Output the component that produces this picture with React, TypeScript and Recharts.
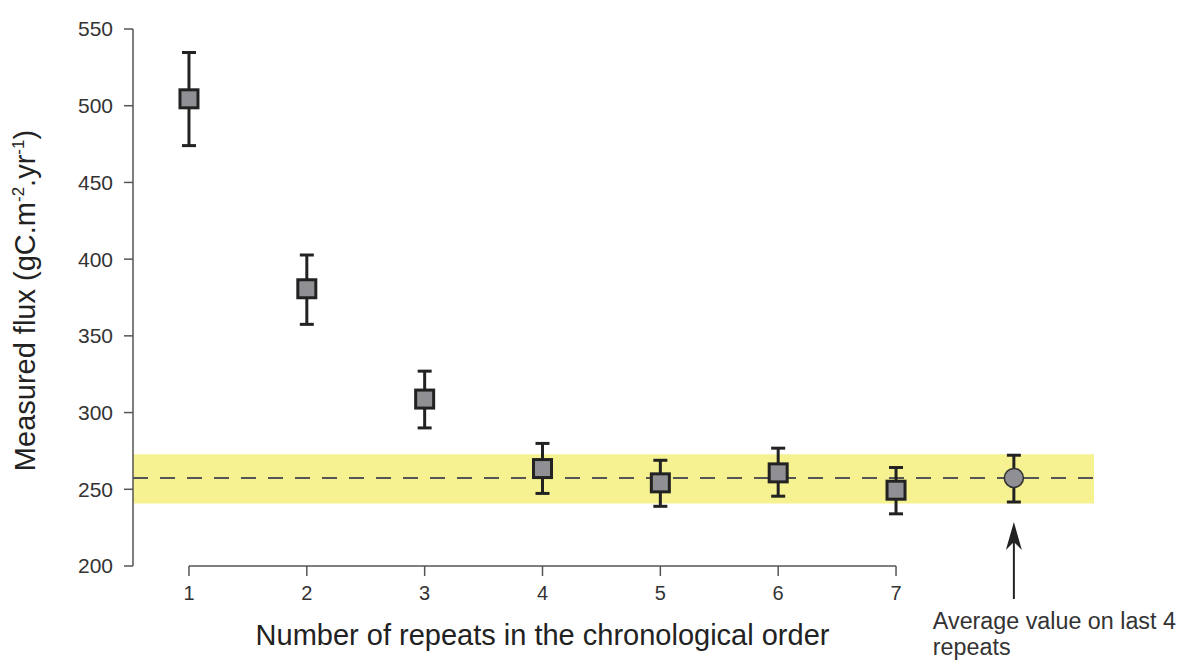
import { ScatterChart, Scatter, XAxis, YAxis, ErrorBar, ReferenceArea, ReferenceLine } from 'recharts';

// repeats in chronological order
const repeats = [1, 2, 3, 4, 5, 6, 7];
const flux = [504.5, 380.7, 308.8, 263.5, 254.2, 260.7, 249.4];
const fluxHigh = [534.7, 402.7, 327.0, 279.9, 268.9, 276.8, 264.2];
const fluxLow = [474.0, 357.5, 290.0, 247.3, 238.9, 245.5, 234.0];

// average of the last 4 repeats, drawn at position 8
const avgPos = 8;
const avgValue = 257.4;
const avgHigh = 272.2;
const avgLow = 241.7;
const band = [240.7, 272.9];

const yTicks = [200, 250, 300, 350, 400, 450, 500, 550];
const xTicks = [1, 2, 3, 4, 5, 6, 7];
const xDomain = [0.525, 8.68];

const repeatData = repeats.map((r, i) => ({
  x: r,
  y: flux[i],
  err: [flux[i] - fluxLow[i], fluxHigh[i] - flux[i]],
}));
const avgData = [{ x: avgPos, y: avgValue, err: [avgValue - avgLow, avgHigh - avgValue] }];

const font = "'Liberation Sans', Arial, sans-serif";

const Square = (props: any) => {
  const { cx, cy } = props;
  return <rect x={cx - 9} y={cy - 9} width={18} height={18} fill="#909094" stroke="#222" strokeWidth={3} />;
};

const Dot = (props: any) => {
  const { cx, cy } = props;
  return <circle cx={cx} cy={cy} r={9.5} fill="#909094" stroke="#333" strokeWidth={1.6} />;
};

const Arrow = (props: any) => {
  const { x1, y1, x2, y2 } = props;
  const top = Math.min(y1, y2);
  const bottom = Math.max(y1, y2);
  const x = x1;
  return (
    <g>
      <line x1={x} y1={top + 14} x2={x2} y2={bottom} stroke="#222" strokeWidth={2} />
      <polygon points={`${x},${top} ${x - 8},${top + 28} ${x},${top + 20} ${x + 8},${top + 28}`} fill="#222" />
      <text x={x - 81} y={bottom + 30} fontSize={23.3} fill="#333" fontFamily={font}>
        Average value on last 4
      </text>
      <text x={x - 81} y={bottom + 56} fontSize={23.3} fill="#333" fontFamily={font}>
        repeats
      </text>
    </g>
  );
};

const XTitle = (props: any) => {
  const { viewBox } = props;
  return (
    <text x={viewBox.x + viewBox.width / 2} y={viewBox.y + 79} textAnchor="middle" fontSize={29} fill="#222" fontFamily={font}>
      Number of repeats in the chronological order
    </text>
  );
};

const YTitle = (props: any) => {
  const { viewBox } = props;
  const cx = 27;
  const cy = viewBox.y + viewBox.height / 2 + 3;
  return (
    <text x={cx} y={cy} transform={`rotate(-90 ${cx} ${cy})`} textAnchor="middle" fontSize={29} fill="#222" fontFamily={font}>
      Measured flux (gC.m
      <tspan dy={-11} fontSize={17}>-2</tspan>
      <tspan dy={11}>.yr</tspan>
      <tspan dy={-11} fontSize={17}>-1</tspan>
      <tspan dy={11}>)</tspan>
    </text>
  );
};

export default function App() {
  return (
    <div style={{ width: 1178, height: 654 }}>
      <ScatterChart width={1178} height={654} margin={{ top: 21, right: 92, bottom: 56, left: 55 }}>
        <XAxis
          type="number"
          dataKey="x"
          domain={xDomain}
          ticks={xTicks}
          allowDataOverflow
          axisLine={false}
          tickLine={{ stroke: '#555', strokeWidth: 1.5 }}
          tickSize={10}
          tickMargin={10}
          height={40}
          tick={{ fill: '#333', fontSize: 20, fontFamily: font }}
        />
        <YAxis
          type="number"
          dataKey="y"
          domain={[200, 550]}
          ticks={yTicks}
          allowDataOverflow
          width={70}
          axisLine={{ stroke: '#555', strokeWidth: 1.5 }}
          tickLine={{ stroke: '#555', strokeWidth: 1.5 }}
          tickSize={9}
          tickMargin={11}
          tick={{ fill: '#333', fontSize: 21, fontFamily: font }}
          label={<YTitle />}
        />
        <ReferenceArea x1={xDomain[0]} x2={xDomain[1]} y1={band[0]} y2={band[1]} fill="#f6f291" fillOpacity={1} stroke="none" />
        <ReferenceLine y={avgValue} stroke="#555" strokeWidth={2} strokeDasharray="15 12" />
        <ReferenceLine
          segment={[{ x: xTicks[0], y: 200 }, { x: xTicks[xTicks.length - 1], y: 200 }]}
          stroke="#555"
          strokeWidth={1.5}
          ifOverflow="visible"
          label={<XTitle />}
        />
        <ReferenceLine
          segment={[{ x: avgPos, y: 228.7 }, { x: avgPos, y: 178.5 }]}
          ifOverflow="visible"
          shape={<Arrow />}
        />
        <Scatter data={repeatData} shape={<Square />} isAnimationActive={false}>
          <ErrorBar dataKey="err" direction="y" width={7} stroke="#222" strokeWidth={3} />
        </Scatter>
        <Scatter data={avgData} shape={<Dot />} isAnimationActive={false}>
          <ErrorBar dataKey="err" direction="y" width={7} stroke="#222" strokeWidth={3} />
        </Scatter>
      </ScatterChart>
    </div>
  );
}
